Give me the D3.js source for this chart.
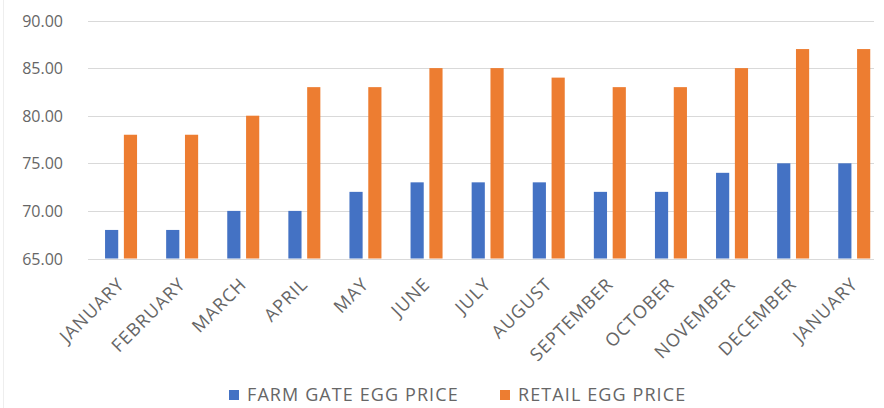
<!DOCTYPE html>
<html>
<head>
<meta charset="utf-8">
<script src="https://cdn.jsdelivr.net/npm/d3@7"></script>
<style>
html,body{margin:0;padding:0;background:#fff;}
svg{display:block;}
text{font-family:"Open Sans",sans-serif;fill:#666;}
</style>
</head>
<body>
<svg id="chart" width="884" height="408"></svg>
<script>
const months = ["JANUARY","FEBRUARY","MARCH","APRIL","MAY","JUNE","JULY","AUGUST","SEPTEMBER","OCTOBER","NOVEMBER","DECEMBER","JANUARY "];
const farmGate = [68,68,70,70,72,73,73,73,72,72,74,75,75];
const retail = [78,78,80,83,83,85,85,84,83,83,85,87,87];
const seriesNames = ["FARM GATE EGG PRICE","RETAIL EGG PRICE"];
const seriesColors = ["#4472C4","#ED7D31"];
const yTicks = [65,70,75,80,85,90];

const svg = d3.select("#chart");
const x = d3.scaleBand().domain(months).range([90.5, 884.8]).padding(0);
const y = d3.scaleLinear().domain([65,90]).range([258.5, 20.5]);
const c = x.bandwidth()/2;
const x1 = d3.scaleBand().domain(seriesNames).range([c-16, c+16]).paddingInner(0.3);

// faint frame edge
svg.append("line").attr("x1",3.5).attr("x2",3.5).attr("y1",0).attr("y2",408)
  .attr("stroke","#eeeeee");

// gridlines
svg.append("g").selectAll("line").data(yTicks).join("line")
  .attr("x1",88).attr("x2",874)
  .attr("y1",d=>Math.round(y(d))+0.5).attr("y2",d=>Math.round(y(d))+0.5)
  .attr("stroke","#d9d9d9").attr("stroke-width",1.2);

// y axis labels
const yAxis = d3.axisLeft(y).tickValues(yTicks).tickFormat(d3.format(".2f")).tickSize(0).tickPadding(0);
const yg = svg.append("g").attr("transform","translate(63,0)").call(yAxis);
yg.select(".domain").remove();
yg.selectAll("text").attr("font-family","Open Sans").attr("font-size",16).attr("fill","#6a6a6a").attr("dy","0.35em");

// bars
const data = months.map((m,i)=>({m, vals:[farmGate[i], retail[i]]}));
const groups = svg.append("g").selectAll("g").data(data).join("g")
  .attr("transform",d=>`translate(${x(d.m)},0)`);
groups.selectAll("rect").data(d=>d.vals.map((v,j)=>({v, s:seriesNames[j], j})))
  .join("rect")
  .attr("x",d=>x1(d.s)).attr("width",x1.bandwidth())
  .attr("y",d=>y(d.v)).attr("height",d=>y(65)-y(d.v))
  .attr("fill",d=>seriesColors[d.j]);

// x axis labels
const xAxis = d3.axisBottom(x).tickSize(0).tickPadding(0);
const xg = svg.append("g").attr("transform","translate(0,281)").call(xAxis);
xg.select(".domain").remove();
xg.selectAll("text")
  .attr("font-family","Open Sans").attr("font-size",18).attr("fill","#6a6a6a")
  .attr("letter-spacing","1px")
  .attr("text-anchor","end").attr("dy","0.35em").attr("y",0)
  .attr("transform","translate(0,0) rotate(-45)");

// legend
const legendX = [229, 500];
const lg = svg.append("g").selectAll("g").data(seriesNames).join("g")
  .attr("transform",(d,i)=>`translate(${legendX[i]},395)`);
lg.append("rect").attr("x",0).attr("y",-5).attr("width",10).attr("height",10)
  .attr("fill",(d,i)=>seriesColors[i]);
lg.append("text").attr("x",18).attr("y",0).attr("dy","0.35em")
  .attr("font-size",18).attr("letter-spacing","1.1px").attr("fill","#6a6a6a").text(d=>d);
</script>
</body>
</html>
